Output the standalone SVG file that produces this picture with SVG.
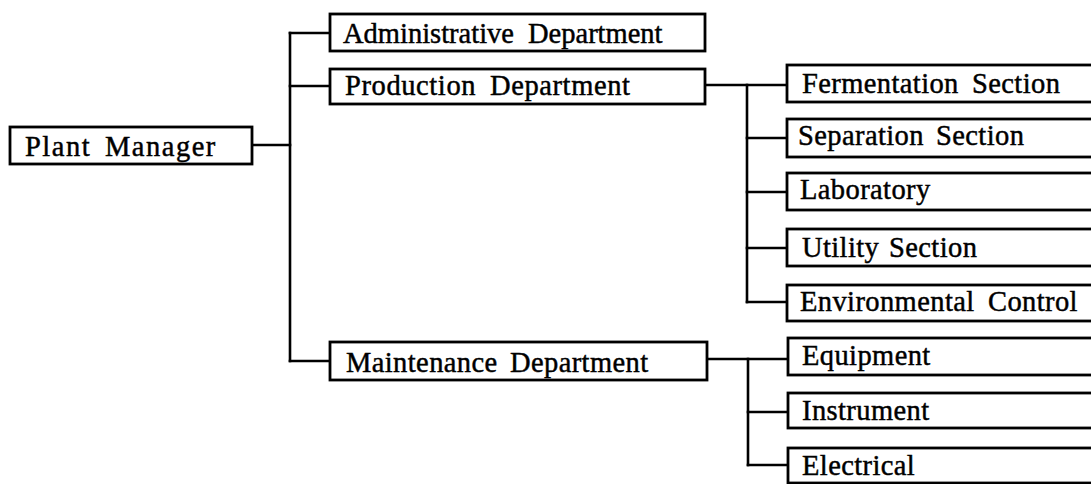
<svg xmlns="http://www.w3.org/2000/svg" width="1091" height="484" viewBox="0 0 1091 484">
  <style>
    .box { fill: #ffffff; stroke: #000000; stroke-width: 2.8; }
    .lbl { font-family: "Liberation Serif", "Times New Roman", serif; font-size: 28.5px; letter-spacing: 0.4px; fill: #000000; stroke: #000000; stroke-width: 0.45; }
    .wire { fill: none; stroke: #000000; stroke-width: 2.6; stroke-linecap: square; }
  </style>
  <rect width="1091" height="484" fill="#ffffff"/>

  <!-- connectors -->
  <g id="connectors" class="wire">
    <!-- plant manager to departments -->
    <path d="M252 145 H290"/>
    <path d="M290 33 V361"/>
    <path d="M290 33 H330"/>
    <path d="M290 86 H330"/>
    <path d="M290 361 H330"/>
    <!-- production department to sections -->
    <path d="M705 85 H787"/>
    <path d="M747 85 V302"/>
    <path d="M747 138 H787"/>
    <path d="M747 192 H787"/>
    <path d="M747 248 H787"/>
    <path d="M747 302 H787"/>
    <!-- maintenance department to sections -->
    <path d="M707 359 H788"/>
    <path d="M748 359 V465"/>
    <path d="M748 412 H788"/>
    <path d="M748 465 H788"/>
  </g>

  <g id="plant-manager">
    <rect class="box" x="10" y="127" width="242" height="37"/>
    <text class="lbl" x="25" y="156" style="letter-spacing:1.5px">Plant<tspan x="105">Manager</tspan></text>
  </g>

  <g id="administrative-department">
    <rect class="box" x="330" y="14" width="375" height="37"/>
    <text class="lbl" x="343" y="43" style="letter-spacing:0px">Administrative<tspan x="528">Department</tspan></text>
  </g>

  <g id="production-department">
    <rect class="box" x="330" y="69" width="375" height="35"/>
    <text class="lbl" x="345" y="95" style="letter-spacing:0.6px">Production<tspan x="490">Department</tspan></text>
  </g>

  <g id="maintenance-department">
    <rect class="box" x="330" y="342" width="377" height="38"/>
    <text class="lbl" x="346" y="372">Maintenance<tspan x="510">Department</tspan></text>
  </g>

  <g id="fermentation-section">
    <rect class="box" x="787" y="65" width="320" height="37"/>
    <text class="lbl" x="802" y="93">Fermentation<tspan x="972">Section</tspan></text>
  </g>

  <g id="separation-section">
    <rect class="box" x="787" y="119" width="320" height="38"/>
    <text class="lbl" x="798" y="145">Separation<tspan x="936">Section</tspan></text>
  </g>

  <g id="laboratory">
    <rect class="box" x="787" y="173" width="320" height="37"/>
    <text class="lbl" x="800" y="199">Laboratory</text>
  </g>

  <g id="utility-section">
    <rect class="box" x="787" y="229" width="320" height="37"/>
    <text class="lbl" x="802" y="257">Utility<tspan x="889">Section</tspan></text>
  </g>

  <g id="environmental-control">
    <rect class="box" x="787" y="285" width="320" height="36"/>
    <text class="lbl" x="800" y="311">Environmental<tspan x="988">Control</tspan></text>
  </g>

  <g id="equipment">
    <rect class="box" x="788" y="338" width="320" height="37"/>
    <text class="lbl" x="802" y="365">Equipment</text>
  </g>

  <g id="instrument">
    <rect class="box" x="788" y="393" width="320" height="35"/>
    <text class="lbl" x="802" y="420">Instrument</text>
  </g>

  <g id="electrical">
    <rect class="box" x="788" y="448" width="320" height="35"/>
    <text class="lbl" x="802" y="475">Electrical</text>
  </g>
</svg>
